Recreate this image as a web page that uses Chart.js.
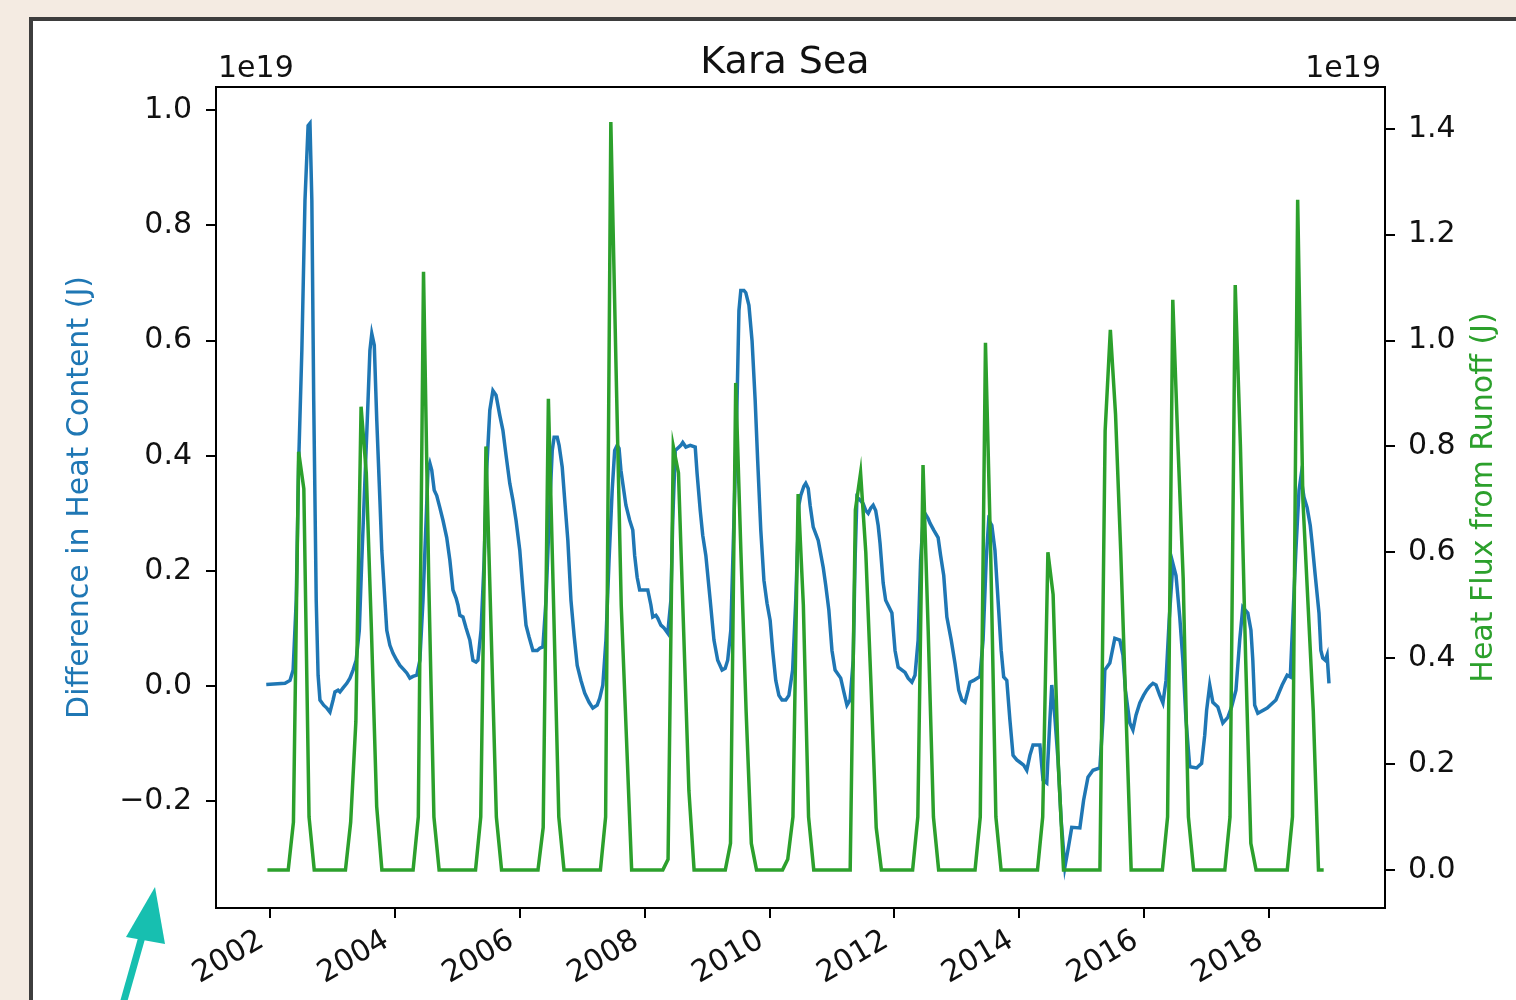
<!DOCTYPE html>
<html>
<head>
<meta charset="utf-8">
<title>Kara Sea</title>
<script src="https://cdn.jsdelivr.net/npm/chart.js@4.4.1/dist/chart.umd.min.js"></script>
<style>
    body { margin: 0; background: #f4ebe2; overflow: hidden; }
    #frame { position: absolute; left: 29px; top: 17px; width: 1600px; height: 1100px; border: 4px solid #3d3d3d; background: #fff; }
    #chart { position: absolute; left: 0; top: 0; }
    #arrow { position: absolute; left: 0; top: 0; }
</style>
</head>
<body>
<div id="frame"></div>
<canvas id="chart" width="1516" height="1000"></canvas>
<svg id="arrow" width="1516" height="1000">
    <line x1="123" y1="1004" x2="145" y2="926" stroke="#17bfb0" stroke-width="7" />
    <polygon points="155,887 126,937 165,944" fill="#17bfb0" />
</svg>
<script>
// 제목 / 축 이름
const chartTitle = 'Kara Sea';
const leftLabel = 'Difference in Heat Content (J)';
const rightLabel = 'Heat Flux from Runoff (J)';
const offsetText = '1e19';

// 눈금
const yearTicks = [2002, 2004, 2006, 2008, 2010, 2012, 2014, 2016, 2018];
const leftTicks = [-0.2, 0.0, 0.2, 0.4, 0.6, 0.8, 1.0];
const rightTicks = [0.0, 0.2, 0.4, 0.6, 0.8, 1.0, 1.2, 1.4];

// 열량 차이 (1e19 J), 날짜는 소수 연도
const heatDates = [
    2001.94, 2002.24, 2002.32, 2002.37, 2002.42, 2002.46, 2002.51, 2002.56, 2002.61, 2002.64, 2002.67, 2002.70, 2002.74, 2002.77, 2002.80, 2002.86, 2002.91, 2002.96,
    2003.01, 2003.04, 2003.09, 2003.12, 2003.17, 2003.23, 2003.28, 2003.33, 2003.38, 2003.43, 2003.47, 2003.52, 2003.57, 2003.60, 2003.63, 2003.67, 2003.71, 2003.76, 2003.79, 2003.84, 2003.87, 2003.92, 2003.97,
    2004.03, 2004.08, 2004.15, 2004.19, 2004.24, 2004.29, 2004.35, 2004.40, 2004.45, 2004.50, 2004.53, 2004.56, 2004.59, 2004.63, 2004.67, 2004.72, 2004.77, 2004.83, 2004.88, 2004.93, 2004.98,
    2005.01, 2005.04, 2005.09, 2005.14, 2005.20, 2005.25, 2005.30, 2005.33, 2005.38, 2005.43, 2005.47, 2005.52, 2005.57, 2005.62, 2005.68, 2005.73, 2005.78, 2005.84, 2005.89, 2005.94,
    2006.00, 2006.05, 2006.10, 2006.15, 2006.21, 2006.28, 2006.32, 2006.37, 2006.42, 2006.47, 2006.52, 2006.55, 2006.60, 2006.63, 2006.68, 2006.72, 2006.77, 2006.82, 2006.87, 2006.92, 2006.98,
    2007.04, 2007.11, 2007.17, 2007.24, 2007.28, 2007.33, 2007.38, 2007.43, 2007.48, 2007.52, 2007.56, 2007.59, 2007.62, 2007.65, 2007.70, 2007.76, 2007.81, 2007.84, 2007.88, 2007.92,
    2008.05, 2008.10, 2008.13, 2008.18, 2008.21, 2008.26, 2008.31, 2008.37, 2008.42, 2008.45, 2008.49, 2008.53, 2008.58, 2008.61, 2008.66, 2008.73, 2008.81, 2008.84, 2008.89, 2008.93, 2008.98,
    2009.05, 2009.11, 2009.17, 2009.24, 2009.29, 2009.33, 2009.38, 2009.43, 2009.48, 2009.51, 2009.54, 2009.59, 2009.62, 2009.67, 2009.72, 2009.77, 2009.81, 2009.86, 2009.91, 2009.96,
    2010.01, 2010.05, 2010.10, 2010.15, 2010.20, 2010.26, 2010.31, 2010.37, 2010.42, 2010.47, 2010.50, 2010.55, 2010.58, 2010.62, 2010.65, 2010.70, 2010.78, 2010.86, 2010.90, 2010.95,
    2011.00, 2011.05, 2011.14, 2011.19, 2011.24, 2011.29, 2011.34, 2011.37, 2011.40, 2011.45, 2011.50, 2011.54, 2011.58, 2011.62, 2011.66, 2011.70, 2011.74, 2011.77, 2011.82, 2011.86, 2011.96,
    2012.01, 2012.06, 2012.17, 2012.22, 2012.28, 2012.33, 2012.38, 2012.42, 2012.46, 2012.49, 2012.54, 2012.57, 2012.63, 2012.70, 2012.74, 2012.79, 2012.84, 2012.91, 2012.97,
    2013.03, 2013.08, 2013.13, 2013.18, 2013.21, 2013.27, 2013.37, 2013.42, 2013.47, 2013.51, 2013.56, 2013.61, 2013.66, 2013.71, 2013.75, 2013.80, 2013.85, 2013.90, 2013.96,
    2014.01, 2014.07, 2014.12, 2014.17, 2014.22, 2014.33, 2014.38, 2014.44, 2014.49, 2014.52, 2014.57, 2014.62, 2014.67, 2014.73, 2014.78, 2014.84, 2014.97,
    2015.03, 2015.10, 2015.18, 2015.29, 2015.34, 2015.37, 2015.45, 2015.53, 2015.61, 2015.66, 2015.70, 2015.77, 2015.82, 2015.87, 2015.93, 2015.99,
    2016.04, 2016.09, 2016.14, 2016.19, 2016.25, 2016.30, 2016.35, 2016.40, 2016.46, 2016.51, 2016.57, 2016.62, 2016.67, 2016.73, 2016.84, 2016.92, 2016.97,
    2017.00, 2017.05, 2017.10, 2017.18, 2017.26, 2017.34, 2017.40, 2017.47, 2017.53, 2017.58, 2017.66, 2017.71, 2017.74, 2017.77, 2017.82, 2017.97,
    2018.11, 2018.21, 2018.29, 2018.34, 2018.38, 2018.43, 2018.48, 2018.51, 2018.56, 2018.61, 2018.66, 2018.69, 2018.74, 2018.80, 2018.83, 2018.86, 2018.90, 2018.93, 2018.96
];
const heatContent = [
    0.003, 0.005, 0.010, 0.028, 0.149, 0.392, 0.583, 0.843, 0.973, 0.977, 0.843, 0.496, 0.149, 0.019, -0.024, -0.033, -0.038, -0.045,
    -0.024, -0.010, -0.007, -0.010, -0.003, 0.005, 0.014, 0.028, 0.045, 0.097, 0.219, 0.357, 0.496, 0.583, 0.612, 0.592, 0.461, 0.323, 0.236, 0.149, 0.097, 0.071, 0.057,
    0.045, 0.036, 0.028, 0.023, 0.014, 0.017, 0.019, 0.045, 0.149, 0.288, 0.375, 0.387, 0.375, 0.340, 0.331, 0.310, 0.288, 0.258, 0.219, 0.167, 0.153,
    0.141, 0.123, 0.120, 0.101, 0.080, 0.045, 0.042, 0.045, 0.097, 0.219, 0.375, 0.479, 0.513, 0.505, 0.470, 0.444, 0.401, 0.352, 0.323, 0.288,
    0.236, 0.167, 0.106, 0.085, 0.062, 0.062, 0.066, 0.068, 0.149, 0.288, 0.409, 0.432, 0.432, 0.418, 0.380, 0.323, 0.253, 0.149, 0.088, 0.036, 0.010,
    -0.012, -0.028, -0.038, -0.033, -0.021, 0.002, 0.080, 0.219, 0.340, 0.409, 0.418, 0.413, 0.375, 0.352, 0.314, 0.288, 0.271, 0.227, 0.189, 0.167,
    0.167, 0.141, 0.120, 0.123, 0.118, 0.106, 0.101, 0.092, 0.149, 0.288, 0.409, 0.413, 0.418, 0.423, 0.415, 0.418, 0.415, 0.369, 0.305, 0.262, 0.227,
    0.149, 0.080, 0.045, 0.028, 0.031, 0.045, 0.097, 0.288, 0.496, 0.652, 0.687, 0.687, 0.683, 0.661, 0.600, 0.496, 0.392, 0.271, 0.184, 0.144,
    0.114, 0.062, 0.010, -0.016, -0.024, -0.024, -0.016, 0.028, 0.149, 0.314, 0.331, 0.347, 0.352, 0.343, 0.314, 0.276, 0.253, 0.206, 0.175, 0.132,
    0.062, 0.028, 0.014, -0.010, -0.033, -0.024, 0.045, 0.219, 0.328, 0.323, 0.317, 0.305, 0.300, 0.309, 0.314, 0.305, 0.279, 0.248, 0.179, 0.149, 0.127,
    0.062, 0.033, 0.024, 0.014, 0.007, 0.019, 0.080, 0.219, 0.288, 0.300, 0.291, 0.283, 0.271, 0.258, 0.227, 0.192, 0.120, 0.080, 0.040,
    -0.007, -0.024, -0.028, -0.007, 0.007, 0.010, 0.017, 0.080, 0.219, 0.288, 0.279, 0.236, 0.149, 0.062, 0.016, 0.010, -0.059, -0.120, -0.128,
    -0.132, -0.137, -0.146, -0.120, -0.102, -0.102, -0.163, -0.168, -0.059, 0.002, -0.054, -0.128, -0.232, -0.314, -0.284, -0.245, -0.246,
    -0.198, -0.158, -0.146, -0.142, -0.059, 0.028, 0.040, 0.083, 0.080, 0.054, -0.007, -0.064, -0.076, -0.050, -0.029, -0.016,
    -0.007, 0.000, 0.005, 0.002, -0.016, -0.029, 0.010, 0.114, 0.213, 0.192, 0.120, 0.045, -0.059, -0.140, -0.142, -0.134, -0.085,
    -0.042, 0.002, -0.028, -0.036, -0.064, -0.054, -0.036, -0.007, 0.080, 0.137, 0.127, 0.097, 0.045, -0.033, -0.047, -0.038,
    -0.024, 0.002, 0.019, 0.016, 0.114, 0.236, 0.340, 0.363, 0.328, 0.310, 0.279, 0.248, 0.192, 0.127, 0.062, 0.049, 0.045, 0.054, 0.005
];

// 유출 열 플럭스 (1e19 J), 월 평균. 2001년 12월은 0, 2018년은 11월까지
const runoffDec2001 = 0;
const runoffYears = [2002, 2003, 2004, 2005, 2006, 2007, 2008, 2009, 2010, 2011, 2012, 2013, 2014, 2015, 2016, 2017, 2018];
const runoff = [
    [0, 0, 0, 0, 0.09, 0.79, 0.72, 0.10, 0, 0, 0, 0],
    [0, 0, 0, 0.09, 0.28, 0.875, 0.75, 0.45, 0.12, 0, 0, 0],
    [0, 0, 0, 0, 0.10, 1.13, 0.55, 0.10, 0, 0, 0, 0],
    [0, 0, 0, 0, 0.10, 0.80, 0.45, 0.10, 0, 0, 0, 0],
    [0, 0, 0, 0, 0.08, 0.89, 0.50, 0.10, 0, 0, 0, 0],
    [0, 0, 0, 0, 0.10, 1.413, 0.95, 0.50, 0.25, 0, 0, 0],
    [0, 0, 0, 0, 0.02, 0.80, 0.75, 0.45, 0.15, 0, 0, 0],
    [0, 0, 0, 0, 0.05, 0.92, 0.60, 0.30, 0.05, 0, 0, 0],
    [0, 0, 0, 0.02, 0.10, 0.71, 0.50, 0.10, 0, 0, 0, 0],
    [0, 0, 0, 0, 0.68, 0.75, 0.60, 0.35, 0.08, 0, 0, 0],
    [0, 0, 0, 0, 0.10, 0.765, 0.45, 0.10, 0, 0, 0, 0],
    [0, 0, 0, 0, 0.10, 0.996, 0.60, 0.10, 0, 0, 0, 0],
    [0, 0, 0, 0, 0.10, 0.60, 0.52, 0.20, 0, 0, 0, 0],
    [0, 0, 0, 0, 0.83, 1.02, 0.86, 0.60, 0.30, 0, 0, 0],
    [0, 0, 0, 0, 0.10, 1.077, 0.80, 0.55, 0.10, 0, 0, 0],
    [0, 0, 0, 0, 0.10, 1.105, 0.80, 0.40, 0.05, 0, 0, 0],
    [0, 0, 0, 0, 0.10, 1.266, 0.70, 0.50, 0.30, 0, 0]
];

const blue = '#1f77b4';
const green = '#2ca02c';
const tickFont = { family: 'DejaVu Sans', size: 30 };

// 데이터 포인트 만들기
const heatPoints = heatDates.map((d, i) => ({ x: d, y: heatContent[i] }));

const runoffPoints = [{ x: 2001 + 11.5 / 12, y: runoffDec2001 }];
runoffYears.forEach((year, k) => {
    runoff[k].forEach((v, m) => {
        runoffPoints.push({ x: year + (m + 0.5) / 12, y: v });
    });
});

function fmt(v) {
    const s = Math.abs(v).toFixed(1);
    return v < -1e-9 ? '\u2212' + s : s;
}

function setTicks(list) {
    return function (scale) {
        scale.ticks = list.map(v => ({ value: v }));
    };
}

// 축 박스, 제목, 축 이름
const annotate = {
    id: 'annotate',
    afterDraw(chart) {
        const { ctx, chartArea } = chart;
        ctx.save();
        ctx.strokeStyle = '#000';
        ctx.lineWidth = 2;
        ctx.strokeRect(chartArea.left, chartArea.top, chartArea.right - chartArea.left, chartArea.bottom - chartArea.top);

        ctx.fillStyle = '#111';
        ctx.textBaseline = 'alphabetic';
        ctx.font = '38px "DejaVu Sans"';
        ctx.textAlign = 'center';
        ctx.fillText(chartTitle, 785, 73);

        ctx.font = '30px "DejaVu Sans"';
        ctx.textAlign = 'left';
        ctx.fillText(offsetText, chartArea.left + 2, 77);
        ctx.textAlign = 'right';
        ctx.fillText(offsetText, chartArea.right - 4, 77);

        ctx.textAlign = 'center';
        ctx.textBaseline = 'middle';
        ctx.fillStyle = blue;
        ctx.translate(80, (chartArea.top + chartArea.bottom) / 2);
        ctx.rotate(-Math.PI / 2);
        ctx.fillText(leftLabel, 0, 0);
        ctx.restore();

        ctx.save();
        ctx.font = '30px "DejaVu Sans"';
        ctx.textAlign = 'center';
        ctx.textBaseline = 'middle';
        ctx.fillStyle = green;
        ctx.translate(1484, (chartArea.top + chartArea.bottom) / 2);
        ctx.rotate(-Math.PI / 2);
        ctx.fillText(rightLabel, 0, 0);
        ctx.restore();
    }
};

const axisGrid = { drawOnChartArea: false, color: '#000', lineWidth: 2, tickLength: 10 };
const axisBorder = { display: true, color: '#000', width: 2 };

new Chart(document.getElementById('chart'), {
    type: 'line',
    data: {
        datasets: [{
            label: rightLabel,
            data: runoffPoints,
            yAxisID: 'y1',
            borderColor: green,
            borderWidth: 3.5,
            pointRadius: 0,
            tension: 0,
            order: 0
        }, {
            label: leftLabel,
            data: heatPoints,
            yAxisID: 'y',
            borderColor: blue,
            borderWidth: 3.5,
            pointRadius: 0,
            tension: 0,
            order: 1
        }]
    },
    options: {
        responsive: false,
        animation: false,
        layout: { padding: { top: 87, left: 0, right: 0, bottom: 0 } },
        plugins: {
            legend: { display: false },
            tooltip: { enabled: false },
            title: { display: false }
        },
        scales: {
            x: {
                type: 'linear',
                min: 2001.135,
                max: 2019.857,
                afterBuildTicks: setTicks(yearTicks),
                afterFit: s => { s.height = 92; },
                grid: axisGrid,
                border: axisBorder,
                ticks: {
                    font: tickFont,
                    color: '#111',
                    padding: 0,
                    minRotation: 30,
                    maxRotation: 30,
                    callback: v => String(v) + ' '
                }
            },
            y: {
                position: 'left',
                min: -0.385,
                max: 1.04,
                afterBuildTicks: setTicks(leftTicks),
                afterFit: s => { s.width = 216; },
                grid: axisGrid,
                border: axisBorder,
                ticks: { font: tickFont, color: '#111', padding: 14, callback: v => fmt(v) }
            },
            y1: {
                position: 'right',
                min: -0.072,
                max: 1.479,
                afterBuildTicks: setTicks(rightTicks),
                afterFit: s => { s.width = 131; },
                grid: axisGrid,
                border: axisBorder,
                ticks: { font: tickFont, color: '#111', padding: 13, callback: v => fmt(v) }
            }
        }
    },
    plugins: [annotate]
});
</script>
</body>
</html>
